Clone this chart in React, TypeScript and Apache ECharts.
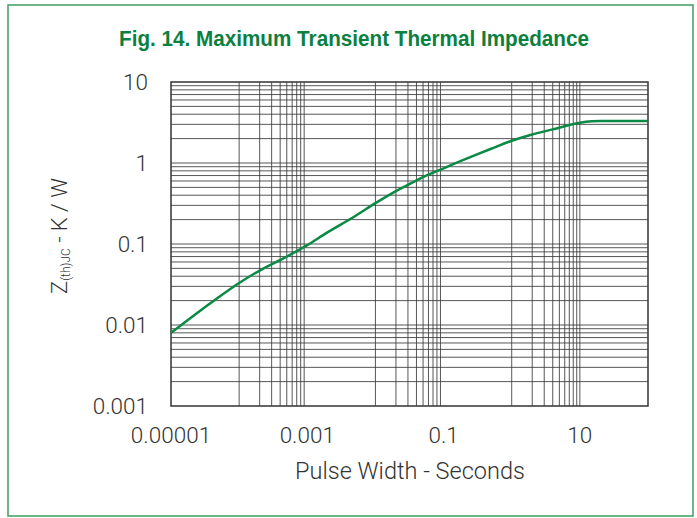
import React, { useEffect, useRef } from "react";
import * as echarts from "echarts";

// Pulse width (s) and transient thermal impedance Z(th)JC (K/W)
const pulseWidth = [1e-5, 2e-5, 5e-5, 1e-4, 2e-4, 5e-4, 1e-3, 2e-3, 5e-3, 1e-2, 2e-2, 3.3e-2, 5e-2, 0.1, 0.2, 0.5, 1, 2, 4, 7, 10, 15, 20, 50, 100];
const zthjc = [0.008, 0.0125, 0.022, 0.033, 0.047, 0.07, 0.097, 0.14, 0.22, 0.32, 0.45, 0.56, 0.67, 0.86, 1.1, 1.5, 1.88, 2.25, 2.6, 2.95, 3.14, 3.28, 3.3, 3.3, 3.3];

// tick labels
const xTickLabels: Record<string, string> = { "-5": "0.00001", "-3": "0.001", "-1": "0.1", "1": "10" };
const yTickLabels: Record<string, string> = { "-3": "0.001", "-2": "0.01", "-1": "0.1", "0": "1", "1": "10" };

// grid line positions (two-decade cycles on x, full decades on y)
const xGridCycles = [1e-4, 1e-2, 1];
const yDecades = [1e-3, 1e-2, 1e-1, 1];
const multipliers = [1, 2, 3, 4, 5, 6, 7, 8, 9];

const X_MIN = 1e-5, X_MAX = 100, Y_MIN = 0.001, Y_MAX = 10;
const TITLE = "Fig. 14. Maximum Transient Thermal Impedance";
const FONT = "Roboto, 'Liberation Sans', sans-serif";

export default function App() {
  const ref = useRef<HTMLDivElement>(null);
  useEffect(() => {
    if (!ref.current) return;
    const chart = echarts.init(ref.current, undefined, { renderer: "svg" });

    // grid line items: [x, y, kind] kind 0 = vertical at x, 1 = horizontal at y
    const gridItems: number[][] = [];
    xGridCycles.forEach((base) => multipliers.forEach((m) => gridItems.push([base * m, 1, 0])));
    gridItems.push([10, 1, 0]);
    yDecades.forEach((base) =>
      multipliers.forEach((m) => {
        if (!(base === 1e-3 && m === 1)) gridItems.push([1, base * m, 1]);
      })
    );

    const labelFont = { fontFamily: FONT, fontWeight: 300 as any, fontSize: 22.5, color: "#333" };

    chart.setOption({
      animation: false,
      backgroundColor: "#fff",
      grid: { left: 171, right: 49, top: 82, bottom: 112, show: true, borderColor: "#333", borderWidth: 1.5, backgroundColor: "transparent" },
      xAxis: {
        type: "log",
        logBase: 10,
        min: X_MIN,
        max: X_MAX,
        axisLine: { show: false },
        axisTick: { show: false },
        splitLine: { show: false },
        axisLabel: {
          ...labelFont,
          margin: 17,
          formatter: (v: number) => xTickLabels[String(Math.round(Math.log10(v)))] ?? "",
        },
      },
      yAxis: {
        type: "log",
        logBase: 10,
        min: Y_MIN,
        max: Y_MAX,
        axisLine: { show: false },
        axisTick: { show: false },
        splitLine: { show: false },
        axisLabel: {
          ...labelFont,
          margin: 23,
          formatter: (v: number) => yTickLabels[String(Math.round(Math.log10(v)))] ?? "",
        },
      },
      graphic: [
        {
          type: "rect",
          shape: { x: 8, y: 5, width: 685, height: 511 },
          style: { fill: "none", stroke: "#3f9d60", lineWidth: 1.5 },
          silent: true,
        },
        {
          type: "text",
          x: 354,
          y: 39,
          scaleX: 0.94,
          style: {
            text: TITLE,
            fill: "#0b8040",
            font: "bold 22px 'Liberation Sans', Arial, sans-serif",
            align: "center",
            verticalAlign: "middle",
          },
        },
        {
          type: "text",
          x: 59,
          y: 236,
          rotation: Math.PI / 2,
          style: {
            text: "{m|Z}{s|(th)JC}{m| - K / W}",
            align: "center",
            verticalAlign: "middle",
            rich: {
              m: { fontFamily: FONT, fontWeight: 300, fontSize: 22, fill: "#333", lineHeight: 26 },
              s: { fontFamily: FONT, fontWeight: 300, fontSize: 12, fill: "#333", lineHeight: 15, verticalAlign: "bottom" },
            },
          },
        },
        {
          type: "text",
          x: 410,
          y: 471,
          style: {
            text: "Pulse Width - Seconds",
            fill: "#333",
            font: "300 23.5px " + FONT,
            align: "center",
            verticalAlign: "middle",
          },
        },
      ],
      series: [
        {
          type: "custom",
          silent: true,
          z: 1,
          data: gridItems,
          renderItem: (params: any, api: any) => {
            const kind = api.value(2);
            let p1, p2;
            if (kind === 0) {
              p1 = api.coord([api.value(0), Y_MIN]);
              p2 = api.coord([api.value(0), Y_MAX]);
            } else {
              p1 = api.coord([X_MIN, api.value(1)]);
              p2 = api.coord([X_MAX, api.value(1)]);
            }
            return {
              type: "line",
              shape: { x1: p1[0], y1: p1[1], x2: p2[0], y2: p2[1] },
              style: { stroke: "#3a3a3a", lineWidth: 1, opacity: 0.85 },
            };
          },
        },
        {
          type: "line",
          data: pulseWidth.map((t, i) => [t, zthjc[i]]),
          showSymbol: false,
          symbol: "none",
          smooth: 0.3,
          lineStyle: { color: "#0a8a45", width: 2.5 },
          z: 5,
        },
      ],
    });
    return () => chart.dispose();
  }, []);
  return <div ref={ref} style={{ position: "fixed", left: 0, top: 0, width: 697, height: 518, background: "#fff" }} />;
}
